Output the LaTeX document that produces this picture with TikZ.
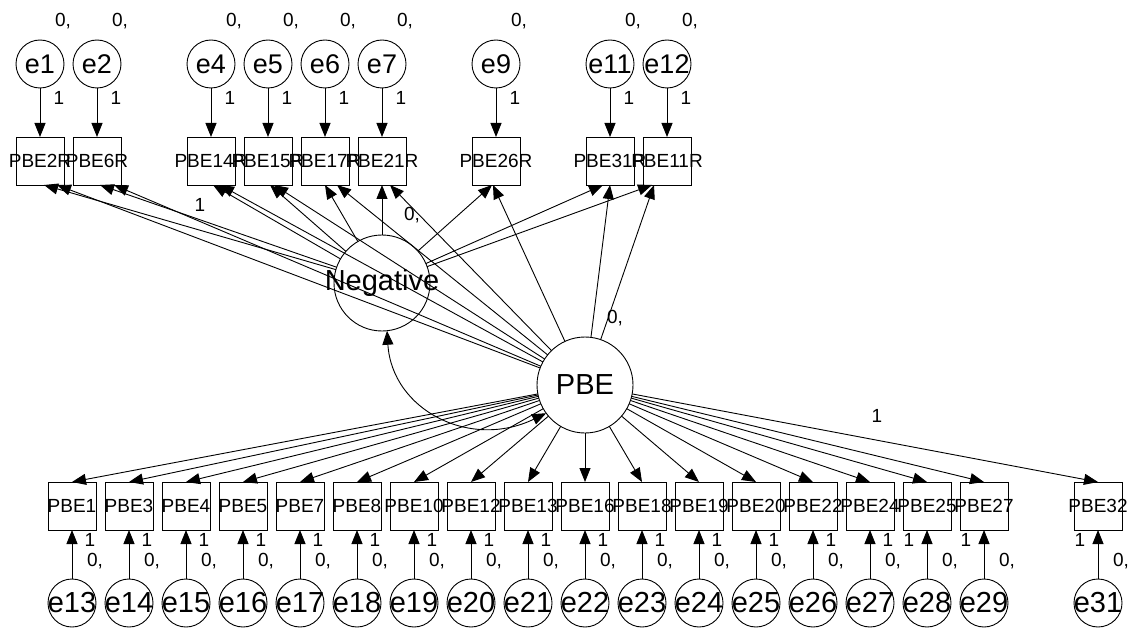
\documentclass[tikz,border=0pt]{standalone}
\usepackage{fontspec}
\setmainfont{Liberation Sans}
\usetikzlibrary{arrows.meta}
\begin{document}
\begin{tikzpicture}[x=1pt,y=-1pt,
  every node/.style={inner sep=0pt, outer sep=0pt},
  lat/.style={draw, circle, minimum size=96pt, line width=0.9pt},
  err/.style={draw, circle, minimum size=48pt, line width=0.9pt},
  obs/.style={draw, rectangle, minimum size=48pt, line width=0.9pt},
  lattxt/.style={font=\fontsize{29}{29}\selectfont},
  etoptxt/.style={font=\fontsize{27}{27}\selectfont},
  ebottxt/.style={font=\fontsize{29}{29}\selectfont},
  boxtxt/.style={font=\fontsize{19}{19}\selectfont},
  par/.style={font=\fontsize{19}{19}\selectfont},
  arr/.style={line width=0.9pt, -{Triangle[length=14pt,width=11pt]}},
  cov/.style={line width=0.9pt, {Triangle[length=14pt,width=11pt]}-{Triangle[length=14pt,width=11pt]}}
]
\useasboundingbox (0,0) rectangle (1143,631);

\node[lat, label={[lattxt]center:Negative}] (Negative) at (382,283) {};
\node[lat, label={[lattxt]center:PBE}] (PBE) at (585,385) {};

% top indicators
\foreach \e/\b/\k/\ofa/\ofb in {1/2R/0/4/17, 2/6R/1/3/17, 4/14R/3/2/9, 5/15R/4/2/6, 6/17R/5/0/12, 7/21R/6/0/8, 9/26R/8/-4/-3, 11/31R/10/-7/0, 12/11R/11/-15/-13}{
  \node[err, label={[etoptxt]center:e\e}] (e\e) at ({40+57*\k},64) {};
  \node[obs, label={[boxtxt]center:PBE\b}] (PBE\b) at ({40+57*\k},161) {};
  \node[par, anchor=base west] (ve\e) at ({40+57*\k+15},27) {0,};
  \node[par, anchor=base] (we\e) at ({40+57*\k+19},105) {1};
  \draw[arr] (e\e.south) -- (PBE\b.north);
  \draw[arr] (Negative) -- ([xshift=\ofa*1pt]PBE\b.south);
  \draw[arr] (PBE) -- ([xshift=\ofb*1pt]PBE\b.south);
}

% bottom indicators
\foreach \n/\e/\k/\s in {1/13/0/1, 3/14/1/1, 4/15/2/1, 5/16/3/1, 7/17/4/1, 8/18/5/1, 10/19/6/1, 12/20/7/1, 13/21/8/1, 16/22/9/1, 18/23/10/1, 19/24/11/1, 20/25/12/1, 22/26/13/1, 24/27/14/1, 25/28/15/-1, 27/29/16/-1, 32/31/18/-1}{
  \node[obs, label={[boxtxt]center:PBE\n}] (PBE\n) at ({72+57*\k},506) {};
  \node[err, label={[ebottxt]center:e\e}] (e\e) at ({72+57*\k},603) {};
  \node[par, anchor=base] (we\e) at ({72+57*\k+18*\s},546) {1};
  \node[par, anchor=base west] (ve\e) at ({72+57*\k+15},566) {0,};
  \draw[arr] (e\e.north) -- (PBE\n.south);
  \draw[arr] (PBE) -- (PBE\n.north);
}

% covariance
\draw[cov] (Negative.-84) .. controls (392,410) and (470,450) .. (PBE.216);

% other parameter labels
\node[par, anchor=base] (fixNeg) at (200,212) {1};
\node[par, anchor=base west] (varNeg) at (404,221) {0,};
\node[par, anchor=base west] (varPBE) at (607,323) {0,};
\node[par, anchor=base] (fixPBE) at (877,422) {1};
\end{tikzpicture}
\end{document}
